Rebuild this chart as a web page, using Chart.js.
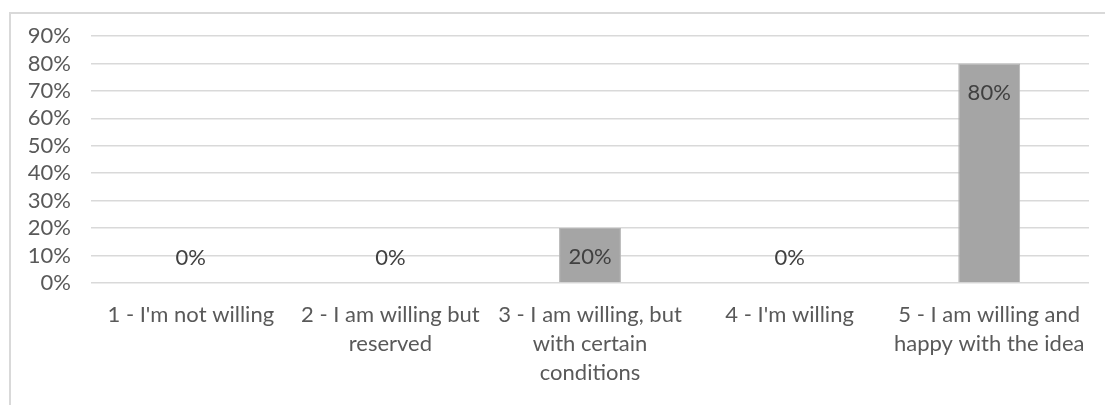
<!DOCTYPE html>
<html>
<head>
<meta charset="utf-8">
<script src="https://cdn.jsdelivr.net/npm/chart.js@4.4.1/dist/chart.umd.min.js"></script>
<style>
    html, body { margin: 0; padding: 0; background: #fff; overflow: hidden; }
    #frame {
        position: absolute; left: 9px; top: 12px; width: 1300px; height: 600px;
        border: 2px solid #d9d9d9; box-sizing: border-box;
    }
    #wrap { position: absolute; left: 0; top: 0; width: 1105px; height: 405px; }
</style>
</head>
<body>
<div id="frame"></div>
<div id="wrap"><canvas id="chart" width="1105" height="405"></canvas></div>
<script>
// data
const categories = [
    ['1 - I\'m not willing'],
    ['2 - I am willing but', 'reserved'],
    ['3 - I am willing, but', 'with certain', 'conditions'],
    ['4 - I\'m willing'],
    ['5 - I am willing and', 'happy with the idea']
];
const shares = [0, 0, 0.2, 0, 0.8];
const yTicks = [0, 0.1, 0.2, 0.3, 0.4, 0.5, 0.6, 0.7, 0.8, 0.9];

const FONT = 'Lato, "Open Sans", sans-serif';
const pct = v => Math.round(v * 100) + '%';

// Excel style "inside end" labels
const valueLabels = {
    id: 'valueLabels',
    afterDatasetsDraw: (chart) => {
        const ctx = chart.ctx;
        const meta = chart.getDatasetMeta(0);
        ctx.save();
        ctx.font = '22px ' + FONT;
        ctx.fillStyle = '#404040';
        ctx.textAlign = 'center';
        ctx.textBaseline = 'middle';
        meta.data.forEach((bar, i) => {
            const v = shares[i];
            const y = v > 0 ? bar.y + 29 : bar.base - 25;
            ctx.fillText(pct(v), bar.x, y);
        });
        ctx.restore();
    }
};

new Chart(document.getElementById('chart'), {
    type: 'bar',
    data: {
        labels: categories,
        datasets: [{
            data: shares,
            backgroundColor: '#a5a5a5',
            borderColor: '#b5b5b5',
            borderWidth: 1,
            categoryPercentage: 1,
            barPercentage: 0.31
        }]
    },
    options: {
        responsive: false,
        animation: false,
        layout: { padding: { left: 0, right: 16, top: 36, bottom: 0 } },
        plugins: { legend: { display: false }, tooltip: { enabled: false } },
        scales: {
            y: {
                min: 0, max: 0.9,
                afterBuildTicks: (s) => { s.ticks = yTicks.map(v => ({ value: v })); },
                afterFit: (s) => { s.width = 91; },
                grid: { color: '#d9d9d9', lineWidth: 1.5, drawTicks: false },
                border: { display: false },
                ticks: {
                    autoSkip: false,
                    padding: 20,
                    color: '#595959',
                    font: { family: FONT, size: 22 },
                    callback: (v) => pct(v)
                }
            },
            x: {
                afterFit: (s) => { s.height = 405 - 283; },
                grid: { display: false, drawTicks: false },
                border: { display: false },
                ticks: {
                    padding: 17,
                    maxRotation: 0,
                    autoSkip: false,
                    color: '#595959',
                    font: { family: FONT, size: 22, lineHeight: 1.32 }
                }
            }
        }
    },
    plugins: [valueLabels]
});
</script>
</body>
</html>
